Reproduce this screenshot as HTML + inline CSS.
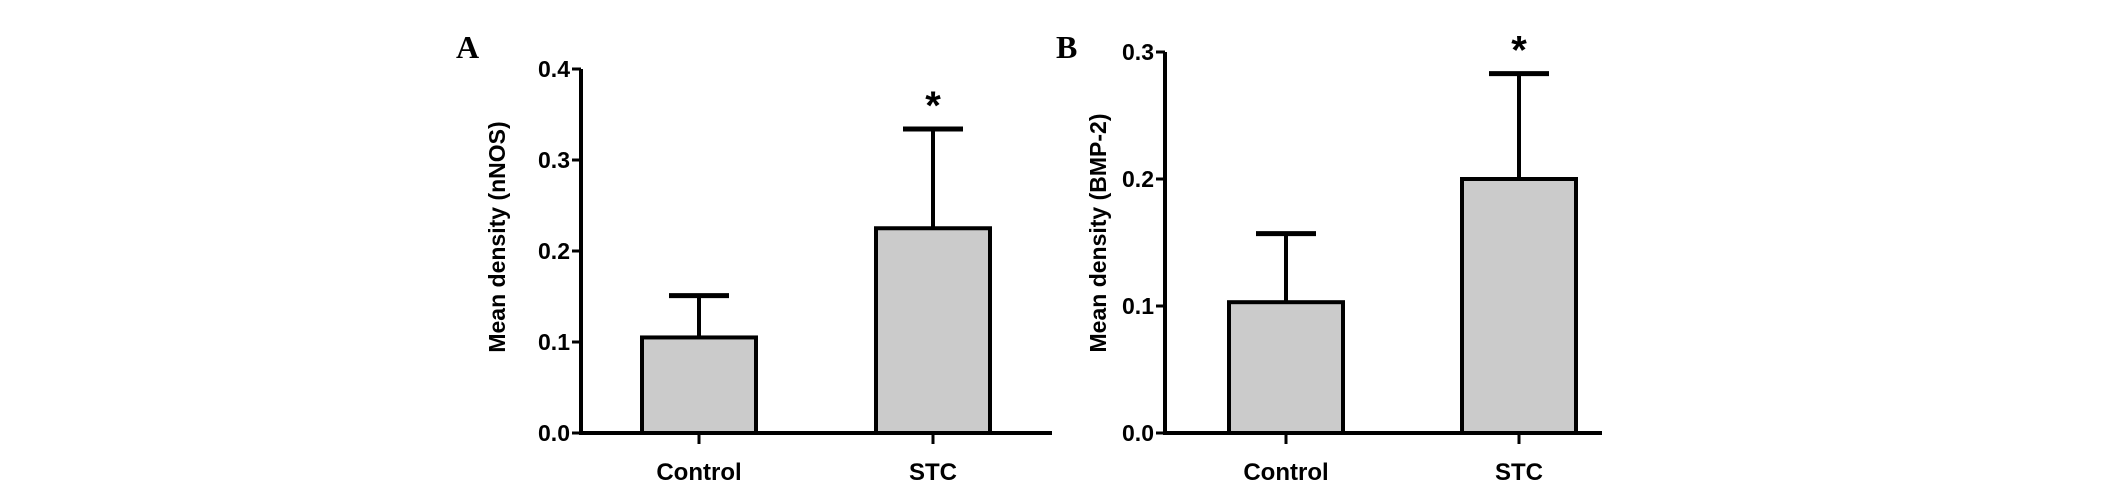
<!DOCTYPE html>
<html><head><meta charset="utf-8"><style>
html,body{margin:0;padding:0;background:#fff;width:2126px;height:488px;overflow:hidden}
svg{display:block}
text{font-family:"Liberation Sans",Arial,sans-serif;font-weight:bold;fill:#000}
</style></head><body>
<svg id="fig" width="2126" height="488" viewBox="0 0 2126 488"></svg>
<script>
const categories = ["Control", "STC"];
const nnosMeans = [0.105, 0.225];
const nnosErr = [0.046, 0.109];
const bmpMeans = [0.103, 0.2];
const bmpErr = [0.054, 0.083];
const nnosTicks = ["0.0","0.1","0.2","0.3","0.4"];
const bmpTicks = ["0.0","0.1","0.2","0.3"];
const nnosSig = [false, true];
const bmpSig = [false, true];

const NS = "http://www.w3.org/2000/svg";
const svg = document.getElementById('fig');
function mk(tag, attrs, parent){
  const e = document.createElementNS(NS, tag);
  for (const k in attrs) e.setAttribute(k, attrs[k]);
  (parent||svg).appendChild(e);
  return e;
}
function panel(cfg){
  const g = mk('g', {});
  
  
  const y = v => cfg.y0 - (v / cfg.max) * (cfg.y0 - cfg.yTop);
  const L = mk('text', {x: cfg.letterX, y: 58, 'font-size': 32, style: 'font-family:"Liberation Serif",serif;font-weight:bold'}, g);
  L.textContent = cfg.letter;
  
  
  const t = mk('text', {x: 0, y: 0, 'font-size': 23, 'text-anchor': 'middle', transform: `translate(${cfg.titleX},${cfg.titleY}) rotate(-90)`}, g);
  t.textContent = cfg.title;
  
  
  cfg.means.forEach((m, i) => {
    const cx = cfg.centers[i];
    const top = y(m), capY = y(m + cfg.err[i]);
    const ln = mk('line', {x1: cx, x2: cx, y1: top, y2: capY, stroke: '#000', 'stroke-width': 4}, g);
    
    
    const cap = mk('line', {x1: cx - 30, x2: cx + 30, y1: capY, y2: capY, stroke: '#000', 'stroke-width': 5}, g);
    
    
    const r = mk('rect', {x: cx - 57, y: top, width: 114, height: cfg.y0 - top, fill: '#cbcbcb', stroke: '#000', 'stroke-width': 4}, g);
    
    
    const tk = mk('line', {x1: cx, x2: cx, y1: cfg.y0, y2: cfg.y0 + 11, stroke: '#000', 'stroke-width': 3}, g);
    
    
    const lb = mk('text', {x: cx, y: 480, 'font-size': 24, 'text-anchor': 'middle'}, g);
    lb.textContent = categories[i];
    
    
    if (cfg.sig[i]) {
      const s = mk('text', {x: cx, y: capY - 10, 'font-size': 40, 'text-anchor': 'middle'}, g);
      s.textContent = '*';
      
      
    }
  });
  const ya = mk('line', {x1: cfg.ax, x2: cfg.ax, y1: cfg.yTop, y2: cfg.y0 + 1.5, stroke: '#000', 'stroke-width': 4}, g);
  
  
  const xa = mk('line', {x1: cfg.ax - 2, x2: cfg.axEnd, y1: cfg.y0, y2: cfg.y0, stroke: '#000', 'stroke-width': 4}, g);
  
  
  cfg.ticks.forEach(tl => {
    const v = parseFloat(tl), yy = y(v);
    const tk = mk('line', {x1: cfg.ax - 9, x2: cfg.ax, y1: yy, y2: yy, stroke: '#000', 'stroke-width': 3}, g);
    
    
    const tx = mk('text', {x: cfg.ax - 11, y: yy + 8, 'font-size': 23, 'text-anchor': 'end'}, g);
    tx.textContent = tl;
    
    
  });
}
panel({name:'panel-a-nnos', letter:'A', letterX:456, title:'Mean density (nNOS)', titleX:505, titleY:237,
  ax:581, axEnd:1052, y0:433, yTop:69, max:0.4, centers:[699,933], means:nnosMeans, err:nnosErr, ticks:nnosTicks, sig:nnosSig});
panel({name:'panel-b-bmp2', letter:'B', letterX:1056, title:'Mean density (BMP-2)', titleX:1106, titleY:233,
  ax:1165, axEnd:1602, y0:433, yTop:52, max:0.3, centers:[1286,1519], means:bmpMeans, err:bmpErr, ticks:bmpTicks, sig:bmpSig});
</script>
</body></html>
